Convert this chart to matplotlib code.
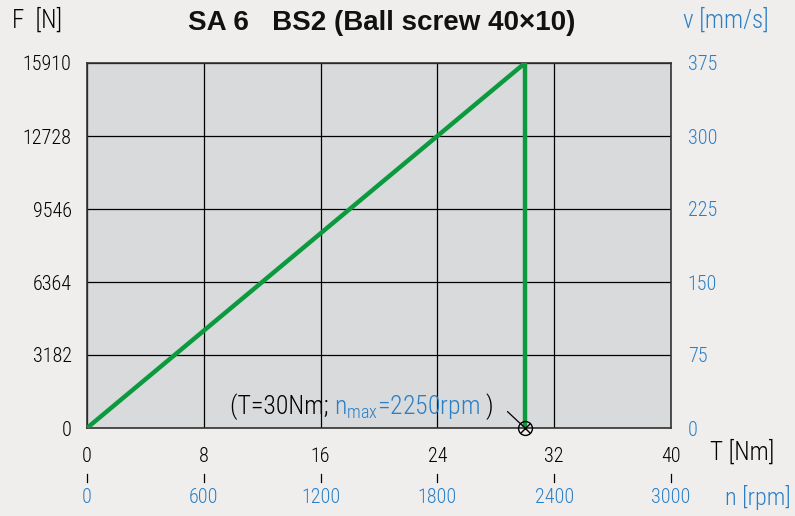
import matplotlib.pyplot as plt
from matplotlib import transforms
from matplotlib import font_manager

# data
torque = [0, 30, 30]          # T [Nm]
force = [0, 15910, 0]         # F [N]
t_ticks = [0, 8, 16, 24, 32, 40]
rpm_ticks = [0, 600, 1200, 1800, 2400, 3000]
f_ticks = [0, 3182, 6364, 9546, 12728, 15910]
v_ticks = [0, 75, 150, 225, 300, 375]
t_max = 30

names = {f.name for f in font_manager.fontManager.ttflist}
tf = 'DejaVu Sans'
fs = 12.5
for cand in ['DejaVu Sans Condensed', 'Liberation Sans Narrow', 'Roboto Condensed']:
    if cand in names:
        tf = cand
        fs = 14.5
        break
plt.rcParams['font.family'] = [tf, 'DejaVu Sans']
plt.rcParams['font.stretch'] = 'condensed'
plt.rcParams['font.weight'] = 'light'

blue = '#2a7fc6'
green = '#0c9a3e'

fig = plt.figure(figsize=(7.95, 5.16), dpi=100, facecolor='#efeeec')
ax = fig.add_axes([87/795, 1-428/516, (671-87)/795, (428-63)/516])
ax.set_facecolor('#d9dadc')

ax.plot(torque, force, color=green, lw=3.2, solid_joinstyle='miter', zorder=3)
ax.plot([t_max], [0], marker='o', ms=10, mfc='none', mec='black', mew=1, clip_on=False, zorder=4)
ax.plot([t_max], [0], marker='x', ms=7, mec='black', mew=1, clip_on=False, zorder=4)

ax.set_xlim(0, 40)
ax.set_ylim(0, 15910)
ax.set_xticks(t_ticks)
ax.set_yticks(f_ticks)
ax.set_xticklabels([str(t) for t in t_ticks])
ax.set_yticklabels([str(f) for f in f_ticks])
ax.tick_params(length=0, labelsize=fs, colors='black', pad=11)
ax.tick_params(axis='x', pad=14)
ax.grid(True, color='black', lw=0.9)
for s in ax.spines.values():
    s.set_color('#333333')
    s.set_linewidth(1.2)

ax2 = ax.twinx()
ax2.set_ylim(0, 375)
ax2.set_yticks(v_ticks)
ax2.set_yticklabels([str(v) for v in v_ticks])
ax2.tick_params(length=0, labelsize=fs, colors=blue, pad=12)
for s in ax2.spines.values():
    s.set_visible(False)

# second row: motor speed
tr = transforms.blended_transform_factory(ax.transData, ax.transAxes)
for t, r in zip(t_ticks, rpm_ticks):
    ax.plot([t, t], [-0.125, -0.148], color='black', lw=0.9, transform=tr, clip_on=False)
    ax.text(t, -0.19, str(r), color=blue, fontsize=fs, ha='center', va='center', transform=tr)

fig.text(710/795, 1-452/516, 'T [Nm]', fontsize=fs + 3.5, ha='left', va='center')
fig.text(791/795, 1-497/516, 'n [rpm]', fontsize=fs + 3, ha='right', va='center', color=blue)
fig.text(12/795, 1-20/516, 'F  [N]', fontsize=fs + 3.5, ha='left', va='center')
fig.text(683/795, 1-20/516, 'v [mm/s]', fontsize=fs + 3.5, ha='left', va='center', color=blue)
fig.text(382/795, 1-23/516, 'SA 6   BS2 (Ball screw 40×10)', fontsize=20, fontweight='bold',
         family='Liberation Sans', stretch='normal', ha='center', va='center', color='#111111')

# annotation
af = fs + 4
ax.annotate('', xy=(t_max, 0), xytext=(28.8, 0.045), textcoords=tr,
            arrowprops=dict(arrowstyle='-', color='black', lw=0.9, shrinkA=0, shrinkB=5))
txt = ax.text(9.8, 0.058, '(T=30Nm; ', fontsize=af, ha='left', va='center', transform=tr)
fig.canvas.draw()
ann = ax.annotate(r'$\mathregular{n_{max}}$=2250rpm', xycoords=txt, xy=(1, 0.5), va='center',
                  fontsize=af, color=blue)
fig.canvas.draw()
ax.annotate(')', xycoords=ann, xy=(1, 0.5), xytext=(4, 0), textcoords='offset points',
            va='center', fontsize=af)

fig.savefig('out.png', dpi=100, facecolor=fig.get_facecolor())
